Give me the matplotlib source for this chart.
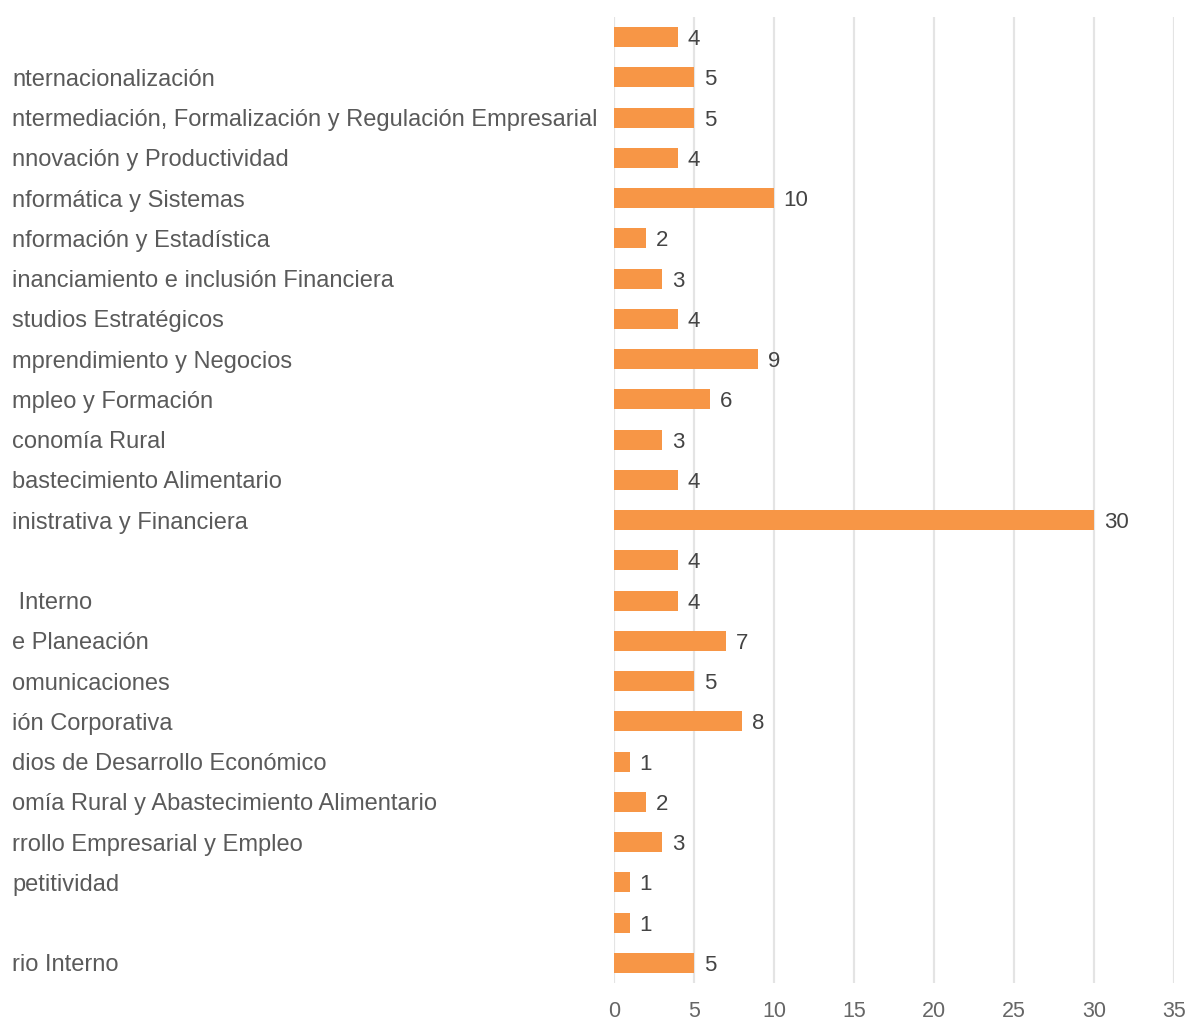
import numpy as np
import matplotlib
matplotlib.use("Agg")
import matplotlib.pyplot as plt
from matplotlib import transforms

# Dependencias (etiqueta visible) y número de personas por dependencia, de arriba abajo
dependencias = [
    "",
    "nternacionalización",
    "ntermediación, Formalización y Regulación Empresarial",
    "nnovación y Productividad",
    "nformática y Sistemas",
    "nformación y Estadística",
    "inanciamiento e inclusión Financiera",
    "studios Estratégicos",
    "mprendimiento y Negocios",
    "mpleo y Formación",
    "conomía Rural",
    "bastecimiento Alimentario",
    "inistrativa y Financiera",
    "",
    " Interno",
    "e Planeación",
    "omunicaciones",
    "ión Corporativa",
    "dios de Desarrollo Económico",
    "omía Rural y Abastecimiento Alimentario",
    "rrollo Empresarial y Empleo",
    "petitividad",
    "",
    "rio Interno",
]
personas = [4, 5, 5, 4, 10, 2, 3, 4, 9, 6, 3, 4, 30, 4, 4, 7, 5, 8, 1, 2, 3, 1, 1, 5]
ticks_x = [0, 5, 10, 15, 20, 25, 30, 35]

plt.rcParams["font.family"] = ["Liberation Sans", "DejaVu Sans"]

W, H = 1189, 1022
fig = plt.figure(figsize=(W / 100, H / 100), dpi=100)
ax = fig.add_axes([614 / W, 1 - 983 / H, (1174 - 614) / W, (983 - 17) / H])

y = np.arange(len(personas))
ax.barh(y, personas, height=0.5, color="#f79646", zorder=3)
ax.set_ylim(len(personas) - 0.5, -0.5)
ax.set_xlim(0, 35)

# Valores al final de cada barra
for yi, v in zip(y, personas):
    ax.annotate(str(v), (v, yi), xytext=(7, 0), textcoords="offset points",
                va="center_baseline", ha="left", fontsize=16, color="#444444")

# Etiquetas de categoría alineadas a la izquierda de la figura
trans = transforms.blended_transform_factory(fig.transFigure, ax.transData)
for yi, lab in zip(y, dependencias):
    ax.text(12 / W, yi, lab, transform=trans, ha="left", va="center_baseline",
            fontsize=17, color="#5a5a5a", clip_on=False)

ax.set_yticks([])
ax.set_xticks(ticks_x)
ax.tick_params(axis="x", length=0, pad=13, labelsize=15.5, labelcolor="#666666")
ax.grid(axis="x", color="#e4e4e4", linewidth=1.6, zorder=0)
for s in ax.spines.values():
    s.set_visible(False)

fig.savefig("out.png", dpi=100)
